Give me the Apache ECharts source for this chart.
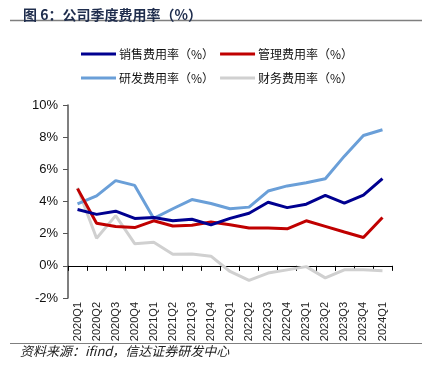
<!DOCTYPE html>
<html>
<head>
<meta charset="utf-8">
<script src="https://cdn.jsdelivr.net/npm/echarts@6/dist/echarts.min.js"></script>
<style>
  html, body { margin: 0; padding: 0; background: #fff; }
  #chart { width: 433px; height: 375px; }
</style>
</head>
<body>
<div id="chart"></div>
<script>
// quarters on the x axis
var quarters = ['2020Q1', '2020Q2', '2020Q3', '2020Q4', '2021Q1', '2021Q2', '2021Q3', '2021Q4',
    '2022Q1', '2022Q2', '2022Q3', '2022Q4', '2023Q1', '2023Q2', '2023Q3', '2023Q4', '2024Q1'];

// expense ratios, %
var salesRate   = [3.5, 3.2, 3.4, 2.95, 3.0, 2.8, 2.9, 2.55, 2.95, 3.27, 3.95, 3.62, 3.83, 4.38, 3.9, 4.4, 5.42];
var adminRate   = [4.8, 2.65, 2.45, 2.38, 2.8, 2.48, 2.52, 2.72, 2.55, 2.35, 2.35, 2.3, 2.8, 2.45, 2.1, 1.76, 3.0];
var rdRate      = [3.85, 4.35, 5.3, 5.0, 2.95, 3.55, 4.12, 3.88, 3.55, 3.65, 4.65, 4.97, 5.17, 5.42, 6.82, 8.1, 8.46];
var financeRate = [4.86, 1.72, 3.12, 1.38, 1.46, 0.72, 0.74, 0.6, -0.35, -0.9, -0.45, -0.25, -0.05, -0.75, -0.25, -0.25, -0.3];

var seriesNames = ['销售费用率（%）', '管理费用率（%）', '研发费用率（%）', '财务费用率（%）'];
var seriesColors = ['#000090', '#C00000', '#6A9FD8', '#D0D0D0'];
var seriesData = [salesRate, adminRate, rdRate, financeRate];

var cjk = '"Noto Sans CJK SC", sans-serif';

function buildSeries() {
    var list = [];
    for (var i = 0; i < seriesNames.length; i++) {
        list.push({
            name: seriesNames[i],
            type: 'line',
            data: seriesData[i],
            symbol: 'none',
            smooth: false,
            lineStyle: { width: 3, color: seriesColors[i] },
            itemStyle: { color: seriesColors[i] },
            z: 10 - i
        });
    }
    return list;
}

function legendRow(names, top) {
    return {
        top: top,
        left: 76,
        orient: 'horizontal',
        itemWidth: 35,
        itemHeight: 3,
        itemGap: 6,
        icon: 'rect',
        data: names,
        textStyle: { fontFamily: cjk, fontSize: 12, color: '#111', padding: [0, 0, 0, -2] }
    };
}

var chart = echarts.init(document.getElementById('chart'), null, { renderer: 'canvas' });

var option = {
    animation: false,
    backgroundColor: '#fff',
    title: {
        text: '图 6：公司季度费用率（%）',
        left: 18,
        top: 3,
        textStyle: { fontFamily: cjk, fontSize: 14, fontWeight: 'bold', color: '#1F2D4D' }
    },
    graphic: [
        { type: 'line', shape: { x1: 10, y1: 20.5, x2: 422, y2: 20.5 }, style: { stroke: '#7F7F7F', lineWidth: 1.5 } },
        { type: 'line', shape: { x1: 10, y1: 343.5, x2: 422, y2: 343.5 }, style: { stroke: '#7F7F7F', lineWidth: 1 } },
        {
            type: 'text', left: 20, top: 345,
            style: { text: '资料来源：ifind，信达证券研发中心', fontFamily: cjk, fontSize: 13, fontStyle: 'italic', fill: '#222' }
        }
    ],
    legend: [
        legendRow([seriesNames[0], seriesNames[1]], 43),
        legendRow([seriesNames[2], seriesNames[3]], 67)
    ],
    grid: { left: 68, right: 41, top: 105, bottom: 77 },
    xAxis: {
        type: 'category',
        data: quarters,
        boundaryGap: true,
        axisLine: { onZero: true, lineStyle: { color: '#000', width: 1 } },
        axisTick: { show: true, inside: false, length: 5, lineStyle: { color: '#000' } },
        axisLabel: {
            rotate: 90,
            interval: 0,
            margin: 4,
            fontFamily: 'Liberation Sans, Arial, sans-serif',
            fontSize: 11,
            color: '#222'
        },
        splitLine: { show: false }
    },
    yAxis: {
        type: 'value',
        min: -2,
        max: 10,
        interval: 2,
        axisLine: { show: true, lineStyle: { color: '#555', width: 1.5 } },
        axisTick: { show: true, inside: false, length: 5, lineStyle: { color: '#555' } },
        axisLabel: {
            formatter: '{value}%',
            margin: 10,
            fontFamily: 'Liberation Sans, Arial, sans-serif',
            fontSize: 13,
            color: '#111'
        },
        splitLine: { show: false }
    },
    series: buildSeries()
};

chart.setOption(option);
</script>
</body>
</html>
